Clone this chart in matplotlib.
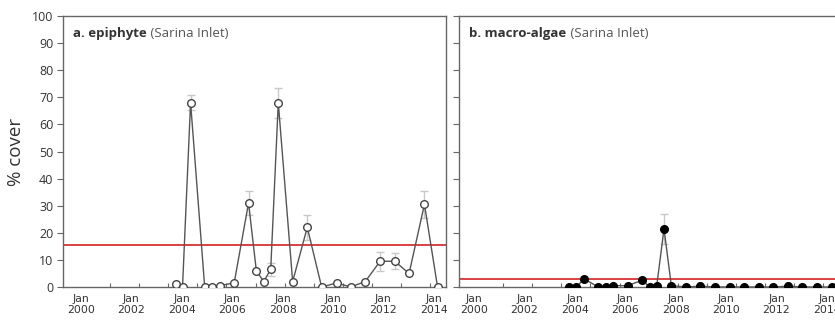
import matplotlib.pyplot as plt
import numpy as np

# epiphyte (Sarina Inlet)
epi_year = [2003.76, 2004.03, 2004.35, 2004.91, 2005.21, 2005.50, 2006.08, 2006.65,
            2006.96, 2007.25, 2007.53, 2007.83, 2008.40, 2008.98, 2009.55, 2010.15,
            2010.70, 2011.28, 2011.87, 2012.45, 2013.02, 2013.63, 2014.15]
epi_cover = [1, 0, 68, 0, 0, 0.5, 1.5, 31, 6, 2, 6.5, 68, 2, 22, 0, 1.5,
             0, 2, 9.5, 9.5, 5, 30.5, 0]
epi_err = [0, 0, 2.7, 0, 0, 0, 0, 4.5, 0, 0, 2.5, 5.5, 0, 4.5, 0, 0,
           0, 0, 3.5, 3, 0, 5, 0]
epi_guideline = 15.5

# macro-algae (Sarina Inlet)
mac_year = [2003.76, 2004.06, 2004.37, 2004.93, 2005.22, 2005.52, 2006.10, 2006.67,
            2006.97, 2007.25, 2007.54, 2007.83, 2008.41, 2008.98, 2009.56, 2010.15,
            2010.73, 2011.30, 2011.88, 2012.46, 2013.03, 2013.61, 2014.19]
mac_cover = [0, 0, 3, 0, 0, 0.5, 0.5, 2.5, 0, 0.3, 21.5, 0.5, 0, 0.3, 0, 0,
             0, 0, 0, 0.3, 0, 0, 0]
mac_err = [0, 0, 0, 0, 0, 0, 0, 0, 0, 0, 5.5, 0, 0, 0, 0, 0,
           0, 0, 0, 0, 0, 0, 0]
mac_guideline = 2.8

label_years = [2000, 2002, 2004, 2006, 2008, 2010, 2012, 2014]
yticks = list(range(0, 101, 10))

txt = '#333333'
spine = '#666666'
fam = ['Open Sans', 'DejaVu Sans']
narrow = ['Liberation Sans Narrow', 'DejaVu Sans']

fig = plt.figure(figsize=(8.35, 3.22), dpi=100)
ax1 = fig.add_axes([0.0754, 0.1087, 0.4587, 0.8416])
ax2 = fig.add_axes([0.5497, 0.1087, 0.4587, 0.8416])


def style(ax, xlim, show_ylabels):
    ax.set_xlim(*xlim)
    ax.set_ylim(0, 100)
    ax.set_yticks(yticks)
    ax.set_xticks(label_years)
    ax.set_xticklabels(['Jan\n%d' % y for y in label_years], fontsize=7.8,
                       family=narrow, color=txt, linespacing=1.1)
    ax.set_xticks(np.arange(2000, 2015, 1.155), minor=True)
    ax.tick_params(axis='x', which='major', length=0, pad=5)
    ax.tick_params(axis='x', which='minor', length=3, direction='in',
                   color=spine, width=0.8)
    ax.tick_params(axis='y', length=4, direction='out', color=spine,
                   width=0.8, labelsize=9, labelcolor=txt, pad=3)
    if show_ylabels:
        for lab in ax.get_yticklabels():
            lab.set_family(fam)
    else:
        ax.set_yticklabels([])
    for s in ax.spines.values():
        s.set_color(spine)
        s.set_linewidth(1.0)


def panel_title(ax, bold, rest):
    t = ax.text(0.027, 0.96, bold, transform=ax.transAxes, fontsize=9.5,
                color=txt, va='top', family=fam, fontweight='bold')
    ax.annotate(' ' + rest, xy=(1, 0), xycoords=t, va='bottom', ha='left',
                fontsize=9.5, color='#555555', family=fam)


# panel a
ax1.axhline(epi_guideline, color='#d42020', lw=1.2, zorder=1)
ax1.errorbar(epi_year, epi_cover, yerr=epi_err, fmt='none', ecolor='#c8c8c8',
             elinewidth=1, capsize=3, zorder=2)
ax1.plot(epi_year, epi_cover, color='#555555', lw=1, marker='o', ms=5.5,
         mfc='white', mec='#444444', mew=1, zorder=3)
style(ax1, (1999.286, 2014.484), True)
ax1.set_ylabel('% cover', fontsize=13.5, family=fam, color=txt, labelpad=5)
panel_title(ax1, 'a. epiphyte', '(Sarina Inlet)')

# panel b
ax2.axhline(mac_guideline, color='#d42020', lw=1.2, zorder=1)
ax2.errorbar(mac_year, mac_cover, yerr=mac_err, fmt='none', ecolor='#c8c8c8',
             elinewidth=1, capsize=3, zorder=2)
ax2.plot(mac_year, mac_cover, color='#555555', lw=1, marker='o', ms=5.5,
         mfc='black', mec='black', mew=1, zorder=3)
style(ax2, (1999.405, 2014.603), False)
panel_title(ax2, 'b. macro-algae', '(Sarina Inlet)')

fig.savefig('out.png', dpi=100)
